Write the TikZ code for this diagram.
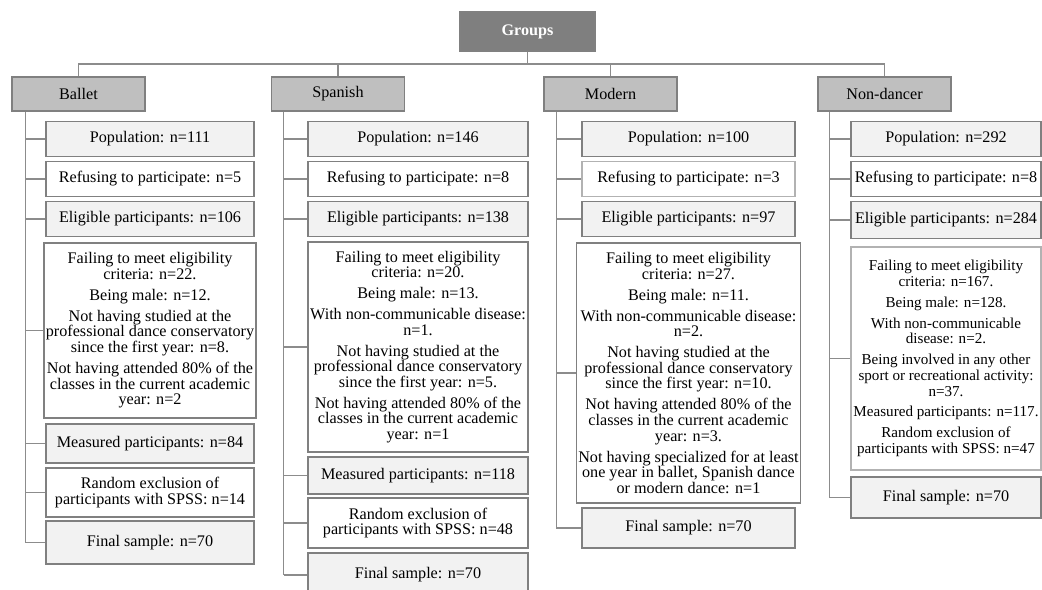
\documentclass[tikz,border=0pt]{standalone}
\usepackage{fontspec}
\setmainfont{Liberation Serif}
\usepackage{tikz}
\usetikzlibrary{positioning, calc}
\usepackage{xcolor}
\definecolor{paleg}{RGB}{242,242,242}
\definecolor{headg}{RGB}{191,191,191}
\definecolor{darkg}{RGB}{127,127,127}

\begin{document}
\begin{tikzpicture}[x=0.02cm, y=-0.02cm,
  box/.style={draw=black!50, line width=0.8pt, align=center, inner xsep=1pt,
              inner ysep=2pt, font=\fontsize{9.2}{8.9}\selectfont},
  pale/.style={box, fill=paleg},
  plain/.style={box, fill=white},
  head/.style={box, fill=headg, minimum width=2.66cm, minimum height=0.68cm},
  groupbox/.style={box, fill=darkg, text=white, font=\fontsize{9.2}{8.9}\selectfont\bfseries,
              minimum width=2.7cm, minimum height=0.78cm},
  colb/.style={minimum width=4.16cm},
  cols/.style={minimum width=4.4cm},
  colm/.style={minimum width=4.26cm},
  coln/.style={minimum width=3.8cm},
  link/.style={draw=black!45, line width=0.7pt},
]
\useasboundingbox (0,0) rectangle (1042,590);

\node[groupbox] (groups) at (527.5,31.5) {Groups};
\node[head] (ballet) at (78.5,94) {Ballet};
\node[head] (spanish) at (338,94) {Spanish};
\node[head] (modern) at (610.5,94) {Modern};
\node[head] (nondancer) at (884.5,94) {Non-dancer};

\coordinate (bus) at (0,64);
\draw[link] (groups.south) -- (groups.south |- bus);
\draw[link] (ballet.north) -- (ballet.north |- bus) -| (nondancer.north);
\draw[link] (spanish.north) -- (spanish.north |- bus);
\draw[link] (modern.north) -- (modern.north |- bus);

\node[pale, colb, minimum height=0.7cm] (b-pop) at (150,139) {Population: n=111};
\node[plain, colb, minimum height=0.7cm] (b-ref) at (150,179) {Refusing to participate: n=5};
\node[pale, colb, minimum height=0.71cm] (b-eli) at (150,219) {Eligible participants: n=106};
\node[plain, colb, minimum height=3.5cm] (b-fail) at (150,330.5) {Failing to meet eligibility\\criteria: n=22.\\[3pt]Being male: n=12.\\[3pt]Not having studied at the\\professional dance conservatory\\since the first year: n=8.\\[3pt]Not having attended 80\% of the\\classes in the current academic\\year: n=2};
\node[pale, colb, minimum height=0.78cm] (b-mea) at (150,443.5) {Measured participants: n=84};
\node[plain, colb, minimum height=0.98cm] (b-ran) at (150,492.5) {Random exclusion of\\participants with SPSS: n=14};
\node[pale, colb, minimum height=0.86cm] (b-fin) at (150,542.5) {Final sample: n=70};

\node[pale, cols, minimum height=0.7cm] (s-pop) at (418,139) {Population: n=146};
\node[plain, cols, minimum height=0.7cm] (s-ref) at (418,179) {Refusing to participate: n=8};
\node[pale, cols, minimum height=0.71cm] (s-eli) at (418,219) {Eligible participants: n=138};
\node[plain, cols, minimum height=4.2cm] (s-fail) at (418,347) {Failing to meet eligibility\\criteria: n=20.\\[3pt]Being male: n=13.\\[3pt]With non-communicable disease:\\n=1.\\[3pt]Not having studied at the\\professional dance conservatory\\since the first year: n=5.\\[3pt]Not having attended 80\% of the\\classes in the current academic\\year: n=1};
\node[pale, cols, minimum height=0.74cm] (s-mea) at (418,475.5) {Measured participants: n=118};
\node[plain, cols, minimum height=1.0cm] (s-ran) at (418,523) {Random exclusion of\\participants with SPSS: n=48};
\node[pale, cols, minimum height=0.88cm] (s-fin) at (418,575) {Final sample: n=70};

\node[pale, colm, minimum height=0.7cm] (m-pop) at (688.5,139) {Population: n=100};
\node[plain, colm, draw=black!30, minimum height=0.7cm] (m-ref) at (688.5,179) {Refusing to participate: n=3};
\node[pale, colm, minimum height=0.71cm] (m-eli) at (688.5,219) {Eligible participants: n=97};
\node[plain, colm, minimum height=5.2cm] (m-fail) at (688.5,373) {Failing to meet eligibility\\criteria: n=27.\\[3pt]Being male: n=11.\\[3pt]With non-communicable disease:\\n=2.\\[3pt]Not having studied at the\\professional dance conservatory\\since the first year: n=10.\\[3pt]Not having attended 80\% of the\\classes in the current academic\\year: n=3.\\[3pt]Not having specialized for at least\\one year in ballet, Spanish dance\\or modern dance: n=1};
\node[pale, colm, minimum height=0.8cm] (m-fin) at (688.5,528) {Final sample: n=70};

\node[pale, coln, minimum height=0.7cm] (n-pop) at (946,139) {Population: n=292};
\node[plain, coln, minimum height=0.7cm] (n-ref) at (946,179) {Refusing to participate: n=8};
\node[pale, coln, minimum height=0.74cm] (n-eli) at (946,220) {Eligible participants: n=284};
\node[plain, coln, draw=black!30, minimum height=4.46cm, font=\fontsize{8.6}{8.9}\selectfont] (n-fail) at (946,358.5) {Failing to meet eligibility\\criteria: n=167.\\[3pt]Being male: n=128.\\[3pt]With non-communicable\\disease: n=2.\\[3pt]Being involved in any other\\sport or recreational activity:\\n=37.\\[3pt]Measured participants: n=117.\\[3pt]Random exclusion of\\participants with SPSS: n=47};
\node[pale, coln, minimum height=0.82cm] (n-fin) at (946,497.5) {Final sample: n=70};

\coordinate (b-sp) at ([xshift=0.28cm]ballet.south west);
\coordinate (s-sp) at ([xshift=0.26cm]spanish.south west);
\coordinate (m-sp) at ([xshift=0.26cm]modern.south west);
\coordinate (n-sp) at ([xshift=0.24cm]nondancer.south west);

\draw[link] (b-sp) -- (b-fin.west -| b-sp);
\draw[link] (s-sp) -- (s-fin.west -| s-sp);
\draw[link] (m-sp) -- (m-fin.west -| m-sp);
\draw[link] (n-sp) -- (n-fin.west -| n-sp);
\foreach \n in {pop,ref,eli,fail,mea,ran,fin} {
  \draw[link] (b-\n.west -| b-sp) -- (b-\n.west);
  \draw[link] (s-\n.west -| s-sp) -- (s-\n.west);
}
\foreach \n in {pop,ref,eli,fail,fin} {
  \draw[link] (m-\n.west -| m-sp) -- (m-\n.west);
  \draw[link] (n-\n.west -| n-sp) -- (n-\n.west);
}
\end{tikzpicture}
\end{document}
